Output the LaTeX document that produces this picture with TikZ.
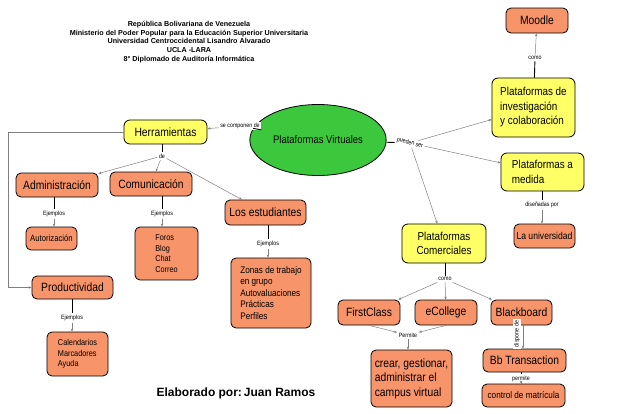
\documentclass[tikz,border=0pt]{standalone}
\usepackage{fontspec}
\setmainfont{Liberation Sans}
\newfontfamily\narrowfont{Liberation Sans}[FakeStretch=0.86]
\usetikzlibrary{shapes.geometric,arrows.meta}
\definecolor{cmaporange}{HTML}{F7946A}
\definecolor{cmapyellow}{HTML}{FFFF66}
\definecolor{cmapgreen}{HTML}{3CC83C}
\definecolor{linkgray}{HTML}{808080}
\begin{document}
\begin{tikzpicture}[x=1pt, y=-1pt,
            obox/.style={draw, rounded corners=5pt, fill=cmaporange, line width=0.8pt, font=\narrowfont\fontsize{12}{14}\selectfont, inner sep=2pt},
            ybox/.style={draw, rounded corners=6pt, fill=cmapyellow, line width=0.8pt, font=\narrowfont\fontsize{12}{14}\selectfont, inner sep=2pt},
            lbl/.style={font=\narrowfont\fontsize{6.2}{7}\selectfont, inner sep=1.5pt, fill=white},
            tolbl/.style={line width=0.9pt},
            arrow/.style={-{Stealth[length=3pt,width=2.5pt]}, linkgray, line width=0.5pt}
        ]
        \useasboundingbox (0,0) rectangle (638,413);

        % --- header ---
        \node[font=\bfseries\fontsize{7.2}{8.8}\selectfont, align=center] (head) at (189,42) {República Bolivariana de Venezuela\\Ministerio del Poder Popular para la Educación Superior Universitaria\\Universidad Centroccidental Lisandro Alvarado\\UCLA -LARA\\8° Diplomado de Auditoría Informática};
        \node[font=\bfseries\fontsize{12}{14}\selectfont] (autor) at (236,393) {Elaborado por:\,Juan Ramos};

        % --- centre ---
        \node[draw, ellipse, fill=cmapgreen, line width=0.8pt, minimum width=101pt, minimum height=71pt, font=\narrowfont\fontsize{11}{13}\selectfont] (pv) at (318,140) {Plataformas Virtuales};

        % --- right side ---
        \node[obox, minimum width=62pt, minimum height=25pt] (moodle) at (537,20.5) {Moodle};
        \node[ybox, minimum width=83pt, minimum height=59pt, align=left, font=\narrowfont\fontsize{11.5}{14.5}\selectfont] (pinv) at (533.5,107.5) {Plataformas de\\investigación\\y colaboración};
        \node[ybox, minimum width=83pt, minimum height=38pt, align=left, font=\narrowfont\fontsize{11.5}{14.5}\selectfont] (pmed) at (542.5,172) {Plataformas a\\medida};
        \node[obox, minimum width=61pt, minimum height=24pt, font=\narrowfont\fontsize{10}{12}\selectfont] (univ) at (544.5,236) {La universidad};
        \node[ybox, minimum width=84pt, minimum height=39pt, align=center, font=\narrowfont\fontsize{11.5}{14.5}\selectfont] (pcom) at (444,243.5) {Plataformas\\Comerciales};
        \node[obox, minimum width=62pt, minimum height=25pt] (fc) at (369,312.5) {FirstClass};
        \node[obox, minimum width=62pt, minimum height=25pt] (ecol) at (446,312.5) {eCollege};
        \node[obox, minimum width=61pt, minimum height=25pt] (bb) at (521.5,312.5) {Blackboard};
        \node[obox, minimum width=81pt, minimum height=57pt, align=left, font=\narrowfont\fontsize{12}{14.5}\selectfont] (crear) at (411.5,378.5) {crear, gestionar,\\administrar el\\campus virtual};
        \node[obox, minimum width=83pt, minimum height=23pt] (bbt) at (524.5,360.5) {Bb Transaction};
        \node[obox, minimum width=83pt, minimum height=23pt, font=\narrowfont\fontsize{9.5}{11}\selectfont] (ctrl) at (523.5,395.5) {control de matrícula};

        % --- left side ---
        \node[ybox, minimum width=83pt, minimum height=24pt] (herr) at (165.5,132) {Herramientas};
        \node[obox, minimum width=82pt, minimum height=24pt] (adm) at (57,185) {Administración};
        \node[obox, minimum width=82pt, minimum height=24pt] (com) at (151,184) {Comunicación};
        \node[obox, minimum width=81pt, minimum height=25pt] (est) at (265.5,212.5) {Los estudiantes};
        \node[obox, minimum width=51pt, minimum height=23pt, font=\narrowfont\fontsize{9}{10}\selectfont] (aut) at (51.5,238.5) {Autorización};
        \node[obox, minimum width=63pt, minimum height=53pt, align=left, font=\narrowfont\fontsize{8.5}{10.5}\selectfont] (foros) at (166.5,253.5) {Foros\\Blog\\Chat\\Correo};
        \node[obox, minimum width=80pt, minimum height=70pt, align=left, font=\narrowfont\fontsize{9.5}{11.5}\selectfont] (zonas) at (271,293) {Zonas de trabajo\\en grupo\\Autovaluaciones\\Prácticas\\Perfiles};
        \node[obox, minimum width=81pt, minimum height=23pt] (prod) at (72.5,287.5) {Productividad};
        \node[obox, minimum width=61pt, minimum height=44pt, align=left, font=\narrowfont\fontsize{8.5}{10.5}\selectfont] (cal) at (77.5,354) {Calendarios\\Marcadores\\Ayuda};

        % --- linking phrases ---
        \node[lbl] (lcomo1) at (535,58) {como};
        \node[lbl] (ldis) at (542,205) {diseñadas por};
        \node[lbl, rotate=-15] (lpue) at (410,143) {pueden ser};
        \node[lbl] (lsec) at (240,126) {se componen de};
        \node[lbl] (lde) at (162,156) {de};
        \node[lbl] (lej1) at (54,214) {Ejemplos};
        \node[lbl] (lej2) at (162,214) {Ejemplos};
        \node[lbl] (lej3) at (268,244) {Ejemplos};
        \node[lbl] (lej4) at (72,318) {Ejemplos};
        \node[lbl] (lcomo2) at (445,279) {como};
        \node[lbl] (lperm) at (408,335) {Permite};
        \node[lbl, rotate=90] (ldisp) at (517,334) {dispone de};
        \node[lbl] (lperm2) at (521,379) {permite};
        \coordinate (corner) at (8,126);

        % --- connectors ---
        \draw[tolbl] (pinv) -- (lcomo1);
        \draw[arrow] (lcomo1) -- (moodle);
        \draw[tolbl] (pmed.south -| ldis) -- (ldis);
        \draw[arrow] (ldis) -- (ldis |- univ.north);
        \draw[tolbl] (pv) -- (lpue);
        \draw[arrow] (lpue) -- (pinv);
        \draw[arrow] (lpue) -- (pmed);
        \draw[arrow] (lpue) -- (pcom);
        \draw[tolbl] (pv) -- (lsec);
        \draw[arrow] (lsec) -- (herr);
        \draw[tolbl] (herr.south -| lde) -- (lde);
        \draw[arrow] (lde) -- (adm);
        \draw[arrow] (lde) -- (com);
        \draw[arrow] (lde) -- (est);
        \draw[arrow] (herr.west) -- (herr.west -| corner) |- (prod.west);
        \draw[tolbl] (adm.south -| lej1) -- (lej1);
        \draw[arrow] (lej1) -- (lej1 |- aut.north);
        \draw[tolbl] (com.south -| lej2) -- (lej2);
        \draw[arrow] (lej2) -- (lej2 |- foros.north);
        \draw[tolbl] (est.south -| lej3) -- (lej3);
        \draw[arrow] (lej3) -- (lej3 |- zonas.north);
        \draw[tolbl] (prod.south -| lej4) -- (lej4);
        \draw[arrow] (lej4) -- (lej4 |- cal.north);
        \draw[tolbl] (pcom.south -| lcomo2) -- (lcomo2);
        \draw[arrow] (lcomo2) -- (fc);
        \draw[arrow] (lcomo2) -- (ecol);
        \draw[arrow] (lcomo2) -- (bb);
        \draw[arrow] (fc.south) -- (lperm);
        \draw[arrow] (ecol.south) -- (lperm);
        \draw[arrow] (lperm) -- (lperm |- crear.north);
        \draw[arrow] (bb.south -| 523,0) -- (bbt.north -| 523,0);
        \draw[tolbl] (bbt.south -| lperm2) -- (lperm2);
        \draw[arrow] (lperm2) -- (lperm2 |- ctrl.north);
        \end{tikzpicture}
\end{document}
